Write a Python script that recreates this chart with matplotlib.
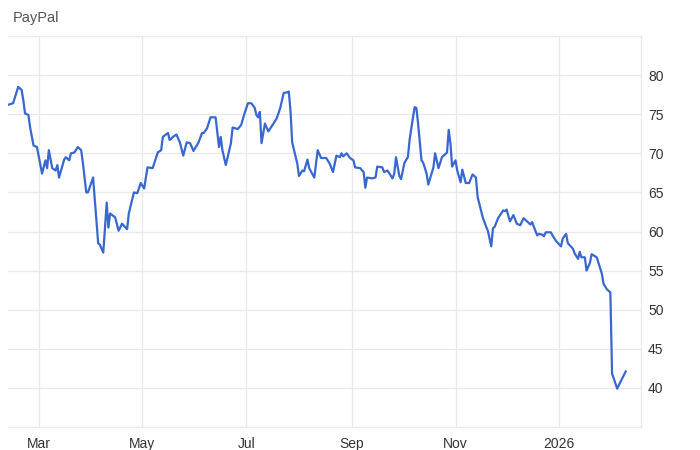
import matplotlib
matplotlib.use("Agg")
import matplotlib.pyplot as plt
import pandas as pd

#  PayPal share price (approximate).
dates = [
    "2025-02-11", "2025-02-14", "2025-02-17", "2025-02-19", "2025-02-20", "2025-02-21",
    "2025-02-23", "2025-02-24", "2025-02-26", "2025-02-28", "2025-03-01", "2025-03-03",
    "2025-03-05", "2025-03-06", "2025-03-07", "2025-03-09", "2025-03-11", "2025-03-12",
    "2025-03-13", "2025-03-16", "2025-03-17", "2025-03-19", "2025-03-20", "2025-03-22",
    "2025-03-24", "2025-03-26", "2025-03-27", "2025-03-29", "2025-03-30", "2025-04-02",
    "2025-04-05", "2025-04-06", "2025-04-08", "2025-04-10", "2025-04-11", "2025-04-12",
    "2025-04-15", "2025-04-17", "2025-04-19", "2025-04-22", "2025-04-23", "2025-04-26",
    "2025-04-28", "2025-04-30", "2025-05-02", "2025-05-04", "2025-05-07", "2025-05-10",
    "2025-05-12", "2025-05-13", "2025-05-16", "2025-05-17", "2025-05-19", "2025-05-21",
    "2025-05-23", "2025-05-25", "2025-05-27", "2025-05-29", "2025-05-31", "2025-06-03",
    "2025-06-05", "2025-06-06", "2025-06-08", "2025-06-10", "2025-06-13", "2025-06-15",
    "2025-06-16", "2025-06-17", "2025-06-19", "2025-06-22", "2025-06-23", "2025-06-26",
    "2025-06-28", "2025-06-30", "2025-07-02", "2025-07-04", "2025-07-06", "2025-07-07",
    "2025-07-08", "2025-07-09", "2025-07-10", "2025-07-12", "2025-07-14", "2025-07-17",
    "2025-07-19", "2025-07-21", "2025-07-23", "2025-07-25", "2025-07-26", "2025-07-27",
    "2025-07-28", "2025-07-31", "2025-08-01", "2025-08-03", "2025-08-04", "2025-08-06",
    "2025-08-07", "2025-08-10", "2025-08-12", "2025-08-14", "2025-08-17", "2025-08-19",
    "2025-08-21", "2025-08-23", "2025-08-25", "2025-08-26", "2025-08-27", "2025-08-29",
    "2025-08-31", "2025-09-02", "2025-09-03", "2025-09-06", "2025-09-08", "2025-09-09",
    "2025-09-10", "2025-09-13", "2025-09-15", "2025-09-16", "2025-09-19", "2025-09-20",
    "2025-09-22", "2025-09-25", "2025-09-26", "2025-09-27", "2025-09-29", "2025-09-30",
    "2025-10-02", "2025-10-04", "2025-10-05", "2025-10-07", "2025-10-08", "2025-10-09",
    "2025-10-10", "2025-10-12", "2025-10-13", "2025-10-15", "2025-10-16", "2025-10-19",
    "2025-10-20", "2025-10-22", "2025-10-24", "2025-10-26", "2025-10-27", "2025-10-28",
    "2025-10-29", "2025-10-30", "2025-11-01", "2025-11-02", "2025-11-04", "2025-11-05",
    "2025-11-07", "2025-11-09", "2025-11-11", "2025-11-13", "2025-11-14", "2025-11-16",
    "2025-11-17", "2025-11-19", "2025-11-20", "2025-11-22", "2025-11-23", "2025-11-24",
    "2025-11-26", "2025-11-29", "2025-11-30", "2025-12-01", "2025-12-03", "2025-12-05",
    "2025-12-07", "2025-12-09", "2025-12-11", "2025-12-13", "2025-12-15", "2025-12-16",
    "2025-12-19", "2025-12-20", "2025-12-22", "2025-12-23", "2025-12-24", "2025-12-27",
    "2025-12-28", "2025-12-30", "2026-01-02", "2026-01-03", "2026-01-05", "2026-01-06",
    "2026-01-09", "2026-01-10", "2026-01-12", "2026-01-13", "2026-01-14", "2026-01-16",
    "2026-01-17", "2026-01-19", "2026-01-20", "2026-01-23", "2026-01-24", "2026-01-26",
    "2026-01-27", "2026-01-29", "2026-01-31", "2026-02-01", "2026-02-02", "2026-02-04",
    "2026-02-06", "2026-02-09",
]
prices = [
    76.2, 76.4, 78.5, 78.1, 76.8, 75.1,
    74.9, 73.3, 71.0, 70.8, 69.7, 67.4,
    69.1, 68.1, 70.4, 68.1, 67.8, 68.5,
    66.9, 69.2, 69.5, 69.1, 70.0, 70.1,
    70.8, 70.4, 68.8, 65.0, 65.0, 66.9,
    58.5, 58.3, 57.3, 63.7, 60.5, 62.3,
    61.8, 60.1, 61.0, 60.3, 62.3, 65.0,
    64.9, 66.2, 65.5, 68.2, 68.1, 70.1,
    70.4, 72.1, 72.6, 71.7, 72.1, 72.4,
    71.4, 69.7, 71.4, 71.3, 70.3, 71.4,
    72.6, 72.6, 73.2, 74.6, 74.6, 70.8,
    72.1, 70.4, 68.5, 71.3, 73.3, 73.1,
    73.6, 75.1, 76.4, 76.4, 75.8, 74.9,
    74.6, 75.3, 71.3, 73.8, 72.8, 73.8,
    74.5, 75.8, 77.7, 77.8, 77.9, 75.5,
    71.4, 68.7, 67.1, 67.8, 67.7, 69.2,
    68.1, 66.9, 70.4, 69.4, 69.4, 68.7,
    67.6, 69.7, 69.5, 70.0, 69.6, 70.0,
    69.4, 69.1, 68.2, 68.1, 67.6, 65.6,
    66.9, 66.8, 66.9, 68.3, 68.2, 67.6,
    67.8, 66.8, 67.4, 69.5, 67.1, 66.7,
    68.8, 69.5, 71.7, 74.6, 75.9, 75.8,
    73.8, 69.1, 68.8, 67.4, 66.0, 68.2,
    70.0, 68.1, 69.5, 69.9, 70.1, 73.0,
    71.3, 68.3, 69.1, 67.8, 66.3, 67.9,
    66.2, 66.2, 67.3, 66.9, 64.4, 62.7,
    61.8, 60.6, 60.1, 58.1, 60.4, 60.6,
    61.7, 62.7, 62.6, 62.8, 61.3, 62.1,
    61.0, 60.8, 61.7, 61.3, 60.9, 61.2,
    59.5, 59.7, 59.6, 59.4, 59.9, 59.9,
    59.5, 58.8, 58.1, 59.1, 59.7, 58.5,
    57.8, 57.2, 56.5, 57.4, 56.7, 56.7,
    55.0, 56.0, 57.1, 56.7, 56.0, 54.6,
    53.3, 52.6, 52.2, 41.8, 41.2, 39.9,
    40.8, 42.1,
]
month_ticks = ["2025-03-01", "2025-05-01", "2025-07-01", "2025-09-01", "2025-11-01", "2026-01-01"]
month_labels = ["Mar", "May", "Jul", "Sep", "Nov", "2026"]
price_ticks = [40, 45, 50, 55, 60, 65, 70, 75, 80]

plt.rcParams["font.family"] = ["Liberation Sans", "DejaVu Sans"]

grid_col = "#e9e9e9"
text_col = "#333333"

fig = plt.figure(figsize=(7, 4.5), dpi=100)
ax = fig.add_axes([8 / 700, 1 - 427 / 450, 633 / 700, 391 / 450])

ax.plot(pd.to_datetime(dates), prices, color="#3867cf", linewidth=1.6, solid_joinstyle="round")

ax.set_xlim(pd.Timestamp("2025-02-11"), pd.Timestamp("2026-02-18"))
ax.set_ylim(35, 85)

#  Horizontal grid every 5, labels only 40..80 on the right.
ax.set_yticks(range(35, 90, 5))
ax.set_yticklabels([str(v) if v in price_ticks else "" for v in range(35, 90, 5)])
ax.yaxis.tick_right()
ax.set_xticks(pd.to_datetime(month_ticks))
ax.set_xticklabels(month_labels)
ax.tick_params(axis="both", length=0, labelsize=10, labelcolor=text_col)
ax.tick_params(axis="y", pad=5)
ax.tick_params(axis="x", pad=7)
ax.grid(True, color=grid_col, linewidth=0.9)
ax.set_axisbelow(True)

ax.spines["left"].set_visible(False)
for side in ["top", "bottom", "right"]:
    ax.spines[side].set_color(grid_col)
    ax.spines[side].set_linewidth(0.9)

fig.text(13 / 700, 1 - 18 / 450, "PayPal", fontsize=10.5, color="#555555", va="center", ha="left")

fig.savefig("out.png", dpi=100)
